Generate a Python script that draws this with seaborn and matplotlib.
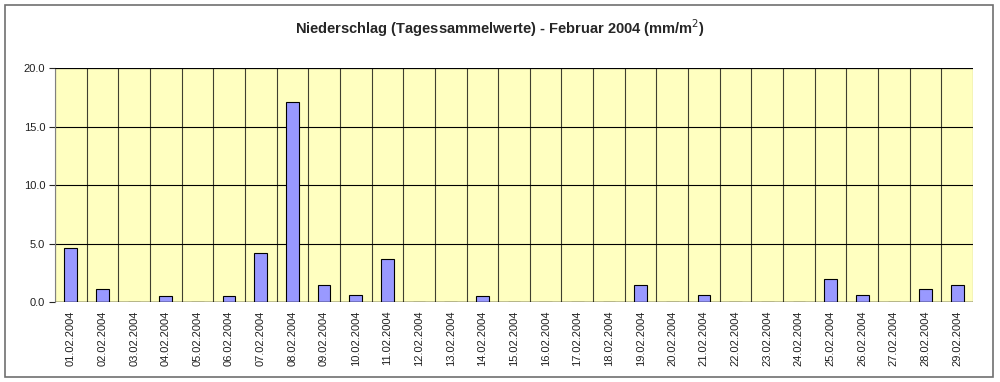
import pandas as pd
import seaborn as sns
import matplotlib.pyplot as plt
from matplotlib.patches import Rectangle
from matplotlib.ticker import FixedLocator

sns.set_style("white")
plt.rcParams['font.family'] = ['Liberation Sans', 'DejaVu Sans']

days = ["%02d.02.2004" % d for d in range(1, 30)]
niederschlag = [4.6, 1.1, 0.0, 0.5, 0.0, 0.5, 4.2, 17.1, 1.5, 0.6,
                3.7, 0.0, 0.0, 0.5, 0.0, 0.0, 0.0, 0.0, 1.5, 0.0,
                0.6, 0.0, 0.0, 0.0, 2.0, 0.6, 0.0, 1.1, 1.5]
yticks = [0, 5, 10, 15, 20]

df = pd.DataFrame({"Datum": days, "Niederschlag": niederschlag})

fig = plt.figure(figsize=(10, 3.82), dpi=100)
ax = fig.add_axes([0.055, 0.209, 0.918, 0.613])

sns.barplot(data=df, x="Datum", y="Niederschlag", color="#9999FF", saturation=1,
            width=0.4, edgecolor="black", linewidth=0.8, ax=ax, zorder=3)

ax.set_facecolor("#FFFFC0")
ax.set_xlim(-0.5, len(days) - 0.5)
ax.set_ylim(0, 20)
ax.set_yticks(yticks)
ax.set_yticklabels(["%.1f" % v for v in yticks], fontsize=8, color="#202020")
ax.set_xticks(range(len(days)))
ax.set_xticklabels(days, rotation=90, fontsize=8, color="#202020")
ax.tick_params(axis="x", which="major", length=0, pad=6)
ax.xaxis.set_minor_locator(FixedLocator([i + 0.5 for i in range(-1, len(days))]))
ax.tick_params(axis="x", which="minor", length=6, direction="inout", width=0.8)
ax.tick_params(axis="y", length=4, direction="out", width=0.8, pad=3, left=True)

ax.grid(axis="y", which="major", color="black", linewidth=0.8, zorder=1)
ax.grid(axis="x", which="minor", color="#404030", linewidth=0.8, zorder=1)
ax.set_axisbelow(True)
for side in ["top", "right", "bottom"]:
    ax.spines[side].set_visible(False)
ax.spines["left"].set_color("#808080")
ax.spines["left"].set_linewidth(0.8)
ax.axhline(0, color="black", linewidth=1, zorder=4)
ax.axhline(20, color="black", linewidth=0.8, zorder=4)
ax.set_xlabel("")
ax.set_ylabel("")

fig.text(0.5, 0.927, "Niederschlag (Tagessammelwerte) - Februar 2004 (mm/m$^2$)",
         ha="center", va="center", fontsize=10.5, fontweight="bold")

fig.patches.append(Rectangle((0.005, 0.013), 0.988, 0.975, transform=fig.transFigure,
                             fill=False, edgecolor="#707070", linewidth=1.2))

fig.savefig("out.png", dpi=100)
